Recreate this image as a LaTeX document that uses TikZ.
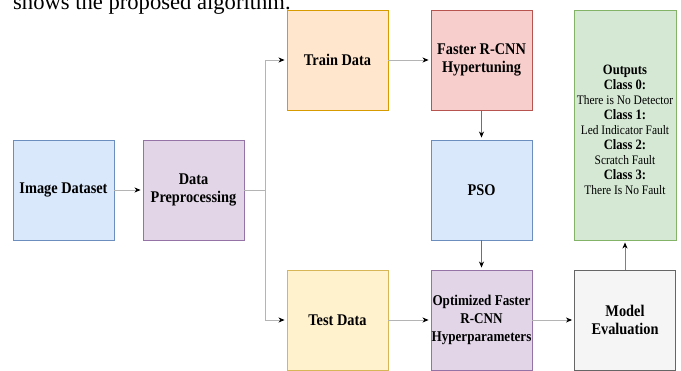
\documentclass[tikz,border=0pt]{standalone}
\usepackage{fontspec}
\setmainfont{Liberation Serif}[FakeStretch=0.88]
\newfontfamily\bodyfont{Liberation Serif}
\usetikzlibrary{arrows.meta}
\definecolor{bluef}{HTML}{DAE8FC}\definecolor{blued}{HTML}{6C8EBF}
\definecolor{purpf}{HTML}{E1D5E7}\definecolor{purpd}{HTML}{9673A6}
\definecolor{orf}{HTML}{FFE6CC}\definecolor{ord}{HTML}{D79B00}
\definecolor{yelf}{HTML}{FFF2CC}\definecolor{yeld}{HTML}{D6B656}
\definecolor{redf}{HTML}{F8CECC}\definecolor{redd}{HTML}{B85450}
\definecolor{grnf}{HTML}{D5E8D4}\definecolor{grnd}{HTML}{82B366}
\definecolor{gryf}{HTML}{F5F5F5}\definecolor{gryd}{HTML}{666666}
\definecolor{edgec}{HTML}{B4B4B4}
\definecolor{vedgec}{HTML}{707070}
\tikzset{
  box/.style={draw, line width=0.9pt, minimum width=101pt, minimum height=100pt,
    inner sep=0pt, align=center, font=\fontsize{16.3}{18}\selectfont\bfseries},
  edge/.style={draw=edgec, line width=0.9pt, shorten >=2pt,
    -{Stealth[length=6pt,width=5pt,inset=1.8pt,color=black]}},
  vedge/.style={edge, draw=vedgec},
}
\begin{document}
\begin{tikzpicture}[x=1pt,y=-1pt]
\useasboundingbox (0,0) rectangle (681,370);
\clip (0,0) rectangle (681,370);
\node[anchor=base west, inner sep=0pt, font=\bodyfont\fontsize{22.6}{24}\selectfont] (cap) at (13,9.5) {shows the proposed algorithm.};
\node[box, fill=bluef, draw=blued] (img) at (63.5,190) {Image Dataset};
\node[box, fill=purpf, draw=purpd] (prep) at (193.5,190) {Data\\Preprocessing};
\node[box, fill=orf, draw=ord] (train) at (337.5,60) {Train Data};
\node[box, fill=redf, draw=redd] (frcnn) at (481.5,60) {Faster R-CNN\\Hypertuning};
\node[box, fill=bluef, draw=blued] (pso) at (481.5,190) {PSO};
\node[box, fill=yelf, draw=yeld] (test) at (337.5,320) {Test Data};
\node[box, fill=purpf, draw=purpd, font=\fontsize{14.9}{18}\selectfont\bfseries] (opt) at (481.5,320) {Optimized Faster\\R-CNN\\Hyperparameters};
\node[box, fill=gryf, draw=gryd] (eval) at (625,320) {Model\\Evaluation};
\node[box, fill=grnf, draw=grnd, minimum width=102pt, minimum height=230pt] (out) at (625,125) {};
\node[align=center, inner sep=0pt, font=\fontsize{13}{15}\selectfont] (outtxt) at (625,129.5) {%
{\fontsize{14.3}{15}\selectfont\bfseries Outputs}\\
{\fontsize{14.3}{15}\selectfont\bfseries Class 0:}\\
There is No Detector\\
{\fontsize{14.3}{15}\selectfont\bfseries Class 1:}\\
Led Indicator Fault\\
{\fontsize{14.3}{15}\selectfont\bfseries Class 2:}\\
Scratch Fault\\
{\fontsize{14.3}{15}\selectfont\bfseries Class 3:}\\
There Is No Fault};
\coordinate (j) at (265,190);
\draw[edge] (img) -- (prep);
\draw[edge] (prep.east) -- (j) |- (train.west);
\draw[edge] (j) |- (test.west);
\draw[edge] (train) -- (frcnn);
\draw[vedge] (frcnn) -- (pso);
\draw[vedge] (pso) -- (opt);
\draw[edge] (test) -- (opt);
\draw[edge] (opt) -- (eval);
\draw[edge, draw=gray] (eval) -- (out);
\end{tikzpicture}
\end{document}
